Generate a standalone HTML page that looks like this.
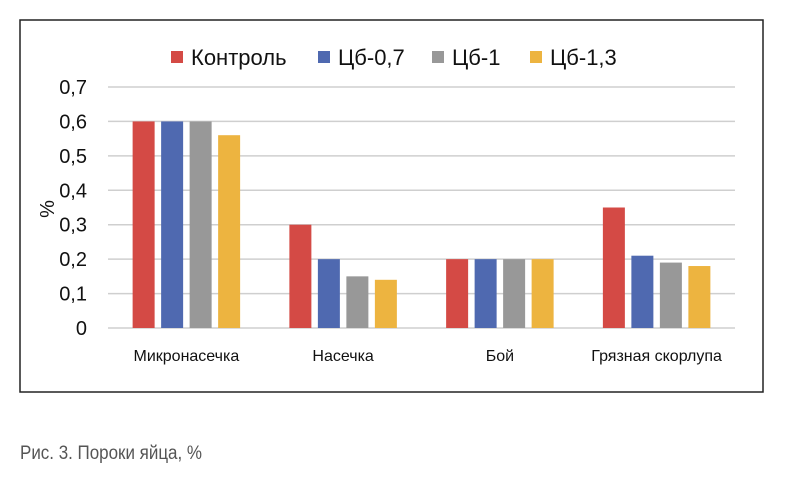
<!DOCTYPE html>
<html><head><meta charset="utf-8"><style>
body{margin:0;width:787px;height:496px;background:#fff;overflow:hidden;font-family:"Liberation Sans","DejaVu Sans",sans-serif}
svg text{font-family:"Liberation Sans","DejaVu Sans",sans-serif}
</style></head><body>
<svg id="chart" width="787" height="496" xmlns="http://www.w3.org/2000/svg">
<rect x="20" y="20" width="743" height="372" fill="#fff" stroke="#222" stroke-width="1.5"/>
<g id="grid"></g><g id="bars"></g><g id="labels"></g>
<g id="legend"></g>
<text transform="translate(54,209) rotate(-90)" text-anchor="middle" font-size="20" fill="#111">%</text>
<text x="20" y="459" font-size="19" fill="#555" font-family="Liberation Sans Narrow, Liberation Sans, sans-serif" textLength="182" lengthAdjust="spacingAndGlyphs">Рис. 3. Пороки яйца, %</text>
</svg>
<script>
const categories=["Микронасечка","Насечка","Бой","Грязная скорлупа"];
const seriesNames=["Контроль","Цб-0,7","Цб-1","Цб-1,3"];
const kontrol=[0.6,0.3,0.2,0.35];
const cb07=[0.6,0.2,0.2,0.21];
const cb1=[0.6,0.15,0.2,0.19];
const cb13=[0.56,0.14,0.2,0.18];
const yTicks=["0","0,1","0,2","0,3","0,4","0,5","0,6","0,7"];
const colors=["#d44a45","#4f69b0","#989898","#edb440"];
const series=[kontrol,cb07,cb1,cb13];
const NS="http://www.w3.org/2000/svg";
const x0=108,x1=735,yBase=328,yTop=87,yMax=0.7;
const y=v=>yBase-(v/yMax)*(yBase-yTop);
const gw=(x1-x0)/categories.length;
function mk(tag,attrs,parent){const e=document.createElementNS(NS,tag);for(const k in attrs)e.setAttribute(k,attrs[k]);parent.appendChild(e);return e;}
const grid=document.getElementById('grid'),bars=document.getElementById('bars'),labels=document.getElementById('labels'),legend=document.getElementById('legend');
yTicks.forEach((t,i)=>{const v=i*0.1;
 const l=mk('line',{x1:x0,x2:x1,y1:y(v),y2:y(v),stroke:'#cfcfcf','stroke-width':1.5},grid);
 
 
 const tx=mk('text',{x:87,y:y(v)+7,'text-anchor':'end','font-size':20,fill:'#111'},labels);
 tx.textContent=t;
 
 
});
const bw=22,step=28.5;
categories.forEach((c,ci)=>{const cx=x0+gw*(ci+0.5);
 series.forEach((s,si)=>{const bx=cx+(si-1.5)*step-bw/2;
  const r=mk('rect',{x:bx,y:y(s[ci]),width:bw,height:yBase-y(s[ci]),fill:colors[si]},bars);
  
  
 });
 const t=mk('text',{x:cx,y:361,'text-anchor':'middle','font-size':16,fill:'#111'},labels);
 t.textContent=c;
 
 
});
const lx=[171,318,432,530];
seriesNames.forEach((n,i)=>{
 const r=mk('rect',{x:lx[i],y:51,width:12,height:12,fill:colors[i]},legend);
 
 
 const t=mk('text',{x:lx[i]+20,y:65,'font-size':22,fill:'#111'},legend);
 t.textContent=n;
 
 
});
</script>
</body></html>
